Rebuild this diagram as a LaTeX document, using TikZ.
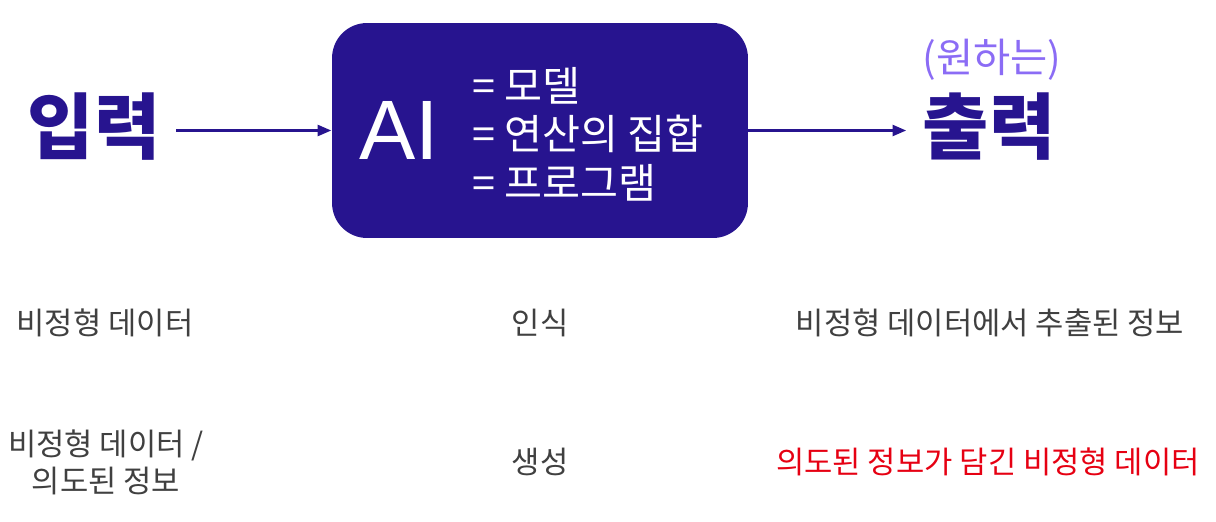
\documentclass[tikz,border=0pt]{standalone}
\usepackage{fontspec}
\setmainfont{Noto Sans CJK KR}
\newfontfamily\aifont{Liberation Sans}
\usepackage{xcolor}
\usepackage{tikz}
\usetikzlibrary{arrows.meta, positioning}
\definecolor{aiindigo}{HTML}{27148F}
\definecolor{wantviolet}{HTML}{8B6CF5}
\definecolor{notegray}{HTML}{404040}
\definecolor{notered}{HTML}{E60012}

\begin{document}
\begin{tikzpicture}[
    x=0.02cm, y=-0.02cm,
    big/.style={font=\fontsize{41}{48}\selectfont\bfseries, text=aiindigo, inner sep=9pt},
    aibox/.style={rectangle, rounded corners=0.7cm, fill=aiindigo,
        minimum width=8.32cm, minimum height=4.3cm, inner sep=0pt},
    aitext/.style={font=\aifont\fontsize{48}{50}\selectfont, text=white, inner sep=0pt},
    eqs/.style={font=\fontsize{23.5}{27.5}\selectfont, text=white, align=left, inner sep=0pt},
    want/.style={font=\fontsize{23}{26}\selectfont, text=wantviolet, inner sep=0pt},
    arr/.style={-{Triangle[length=8pt, width=6pt]}, line width=2.2pt, aiindigo},
    note/.style={font=\fontsize{17.5}{21}\selectfont, text=notegray, align=center, inner sep=0pt}
]
    \useasboundingbox (0,0) rectangle (1216,521);

    % top row: input -> AI -> output
    \node[aibox] (ai) at (540,130.5) {};
    \node[aitext] (ailbl) at (399,130) {AI};
    \node[eqs, anchor=west] (aieq) at (472,134) {= 모델\\= 연산의 집합\\= 프로그램};
    \node[big] (input) at (94,127) {입력};
    \node[big] (output) at (989,127) {출력};
    \node[want] (wanted) at (992,60) {(원하는)};

    \draw[arr] (input.east |- ai.west) -- (ai.west);
    \draw[arr] (ai.east) -- (ai.east -| output.west);

    % recognition row
    \node[note] (recin) at (105,323) {비정형 데이터};
    \node[note] (rec) at (540,323) {인식};
    \node[note] (recout) at (990,323) {비정형 데이터에서 추출된 정보};

    % generation row
    \node[note] (genin) at (106,462) {비정형 데이터 /\\의도된 정보};
    \node[note] (gen) at (540,462) {생성};
    \node[note, text=notered] (genout) at (988,462) {의도된 정보가 담긴 비정형 데이터};
\end{tikzpicture}
\end{document}
